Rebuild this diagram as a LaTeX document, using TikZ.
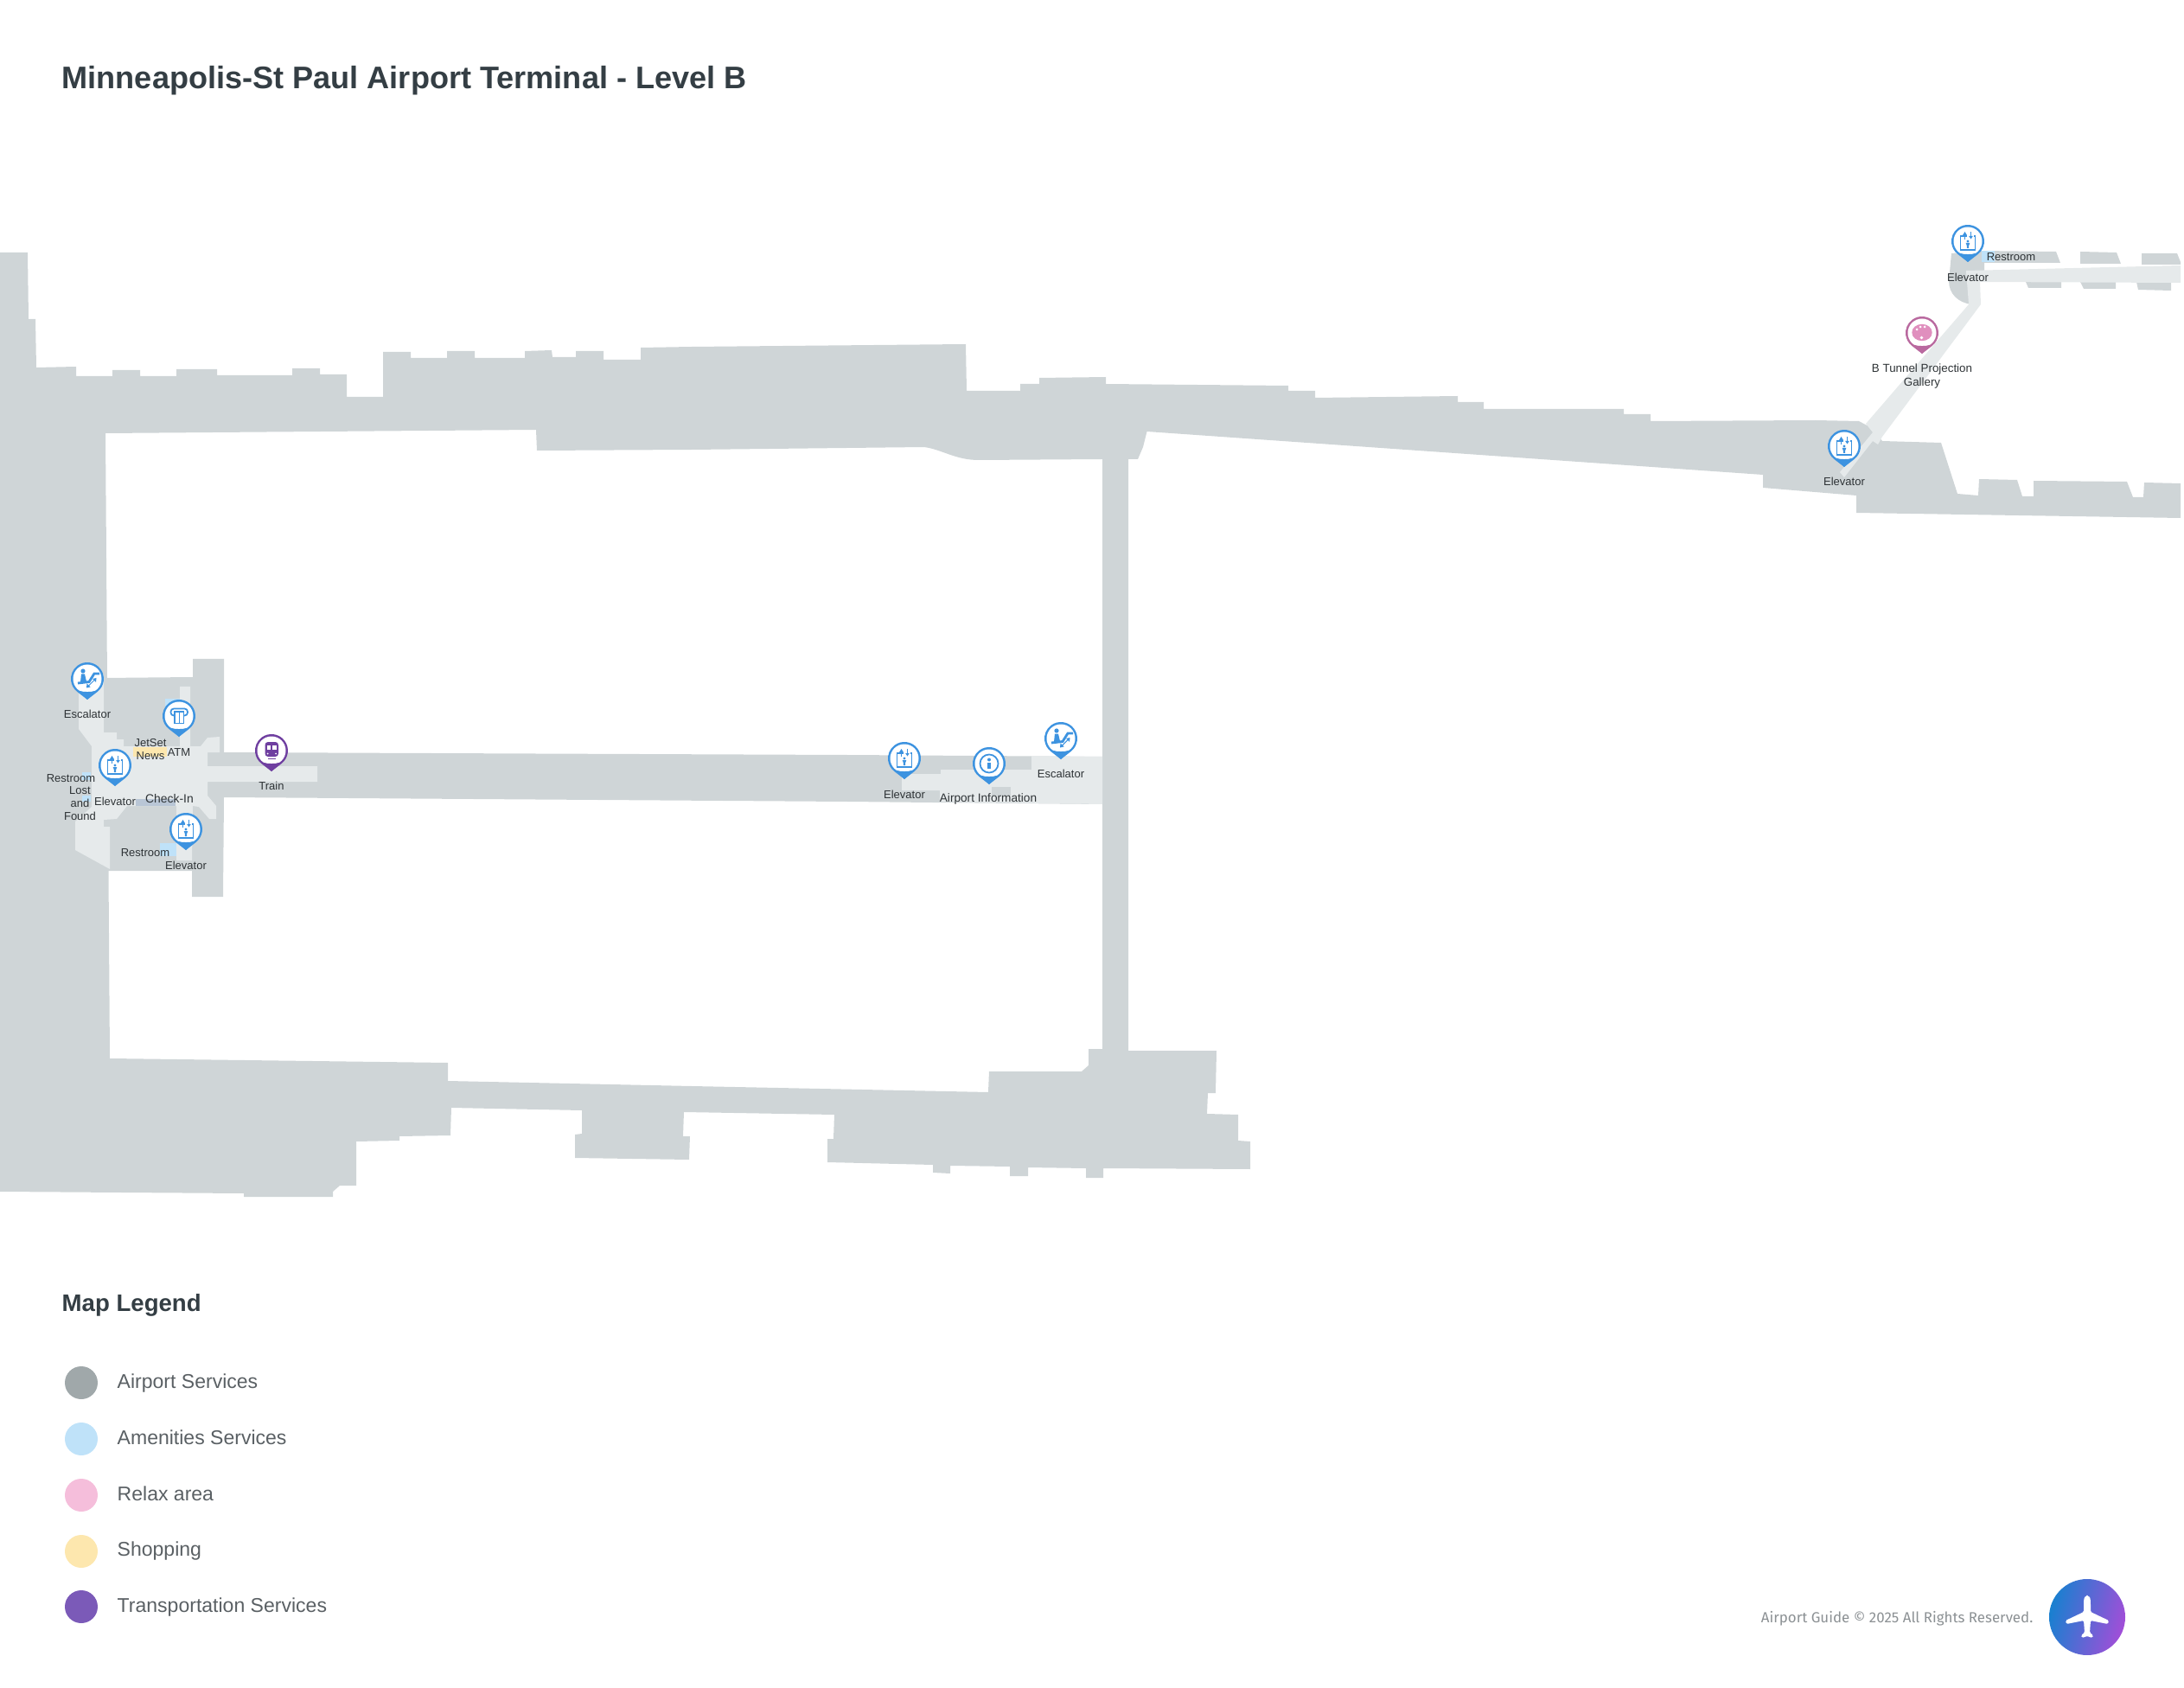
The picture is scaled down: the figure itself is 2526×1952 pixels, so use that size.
\documentclass[tikz,border=0pt]{standalone}
\usepackage{fontspec}
\setmainfont{Liberation Sans}
\newfontfamily\footerfont{Fira Sans}
\usepackage{tikz}
\definecolor{floorgray}{HTML}{CFD5D7}
\definecolor{floorlight}{HTML}{E6EAEB}
\definecolor{amenityblue}{HTML}{BFE2F9}
\definecolor{shopyellow}{HTML}{FDE7AE}
\definecolor{checkgray}{HTML}{B9C6D6}
\definecolor{pinblue}{HTML}{3D93E0}
\definecolor{pinpurple}{HTML}{6F3FA0}
\definecolor{pinpink}{HTML}{B9699F}
\definecolor{palettepink}{HTML}{E08FBE}
\definecolor{titledark}{HTML}{343E44}
\definecolor{labeldark}{HTML}{2E3336}
\definecolor{legendtext}{HTML}{5A6064}
\definecolor{footergray}{HTML}{8C9194}
\tikzset{
    floor/.style = {fill = floorgray},
    walkway/.style = {fill = floorlight},
    maplabel/.style = {text = labeldark, inner sep = 0pt, align = center, yshift = -0.2pt, font = \fontsize{3.7}{4.2}\selectfont},
    legendlabel/.style = {text = legendtext, inner sep = 0pt, anchor = base west, font = \fontsize{6.55}{8}\selectfont},
    legenddot/.style = {circle, minimum size = 38*0.01cm, inner sep = 0pt},
    iconline/.style = {line width = 0.4pt},
    pinbase/.pic = {
        \fill[#1] (0,24) -- (11.6,15) arc[start angle = 52.3, end angle = -232.3, radius = 19] -- cycle;
        \fill[white] (0,0) circle[radius = 16.5];
        \fill[#1] (0,24) -- (-9.5,13.8) .. controls (-4,15.5) and (4,15.5) .. (9.5,13.8) -- cycle;
    },
    elevatorpin/.pic = {
        \pic {pinbase = pinblue};
        \draw[iconline, pinblue] (-1,-6) -- (-8.5,-6) -- (-8.5,10) -- (8.5,10) -- (8.5,-6) -- (6.5,-6);
        \draw[line width = 0.3pt, pinblue] (-3.5,-2) -- (-3.5,-7);
        \fill[pinblue] (-6,-7) -- (-1,-7) -- (-3.5,-11) -- cycle;
        \draw[line width = 0.3pt, pinblue] (3.5,-11) -- (3.5,-6);
        \fill[pinblue] (1.2,-6) -- (5.8,-6) -- (3.5,-2.5) -- cycle;
        \fill[pinblue] (0,0) circle[radius = 1.7];
        \fill[pinblue] (-2.3,2) -- (2.3,2) -- (1.2,5) -- (1,8) -- (-1,8) -- (-1.2,5) -- cycle;
    },
    escalatorpin/.pic = {
        \pic {pinbase = pinblue};
        \draw[pinblue, line width = 0.8pt] (-11,5) -- (2,3.5) -- (8,-6) -- (14,-6);
        \fill[pinblue] (-5,-9) circle[radius = 2.6];
        \fill[pinblue] (-7,-5.5) -- (-3,-5.5) -- (-1,3) -- (-8,4) -- cycle;
        \draw[line width = 0.3pt, pinblue] (1,8.5) -- (8.5,1);
        \fill[pinblue] (-1,10.5) -- (-0.5,5.5) -- (3.5,9.5) -- cycle;
        \fill[pinblue] (10.5,-1) -- (10,4) -- (6,0) -- cycle;
    },
    atmpin/.pic = {
        \pic {pinbase = pinblue};
        \draw[line width = 0.5pt, pinblue, rounded corners = 1pt] (-5,-0.5) -- (-9.5,-0.5) -- (-9.5,-8.5) -- (10,-8.5) -- (10,-0.5) -- (5.5,-0.5);
        \draw[line width = 0.5pt, pinblue] (-5,-5) -- (-5,8.5) -- (5.5,8.5) -- (5.5,-5) -- cycle;
        \draw[iconline, pinblue] (0.5,-5) -- (0.5,8.5);
    },
    infopin/.pic = {
        \pic {pinbase = pinblue};
        \draw[line width = 0.5pt, pinblue] (0,0) circle[radius = 10.5];
        \fill[pinblue] (0,-4.5) circle[radius = 2];
        \fill[pinblue] (-2.2,-1.2) rectangle (1.8,6);
    },
    trainpin/.pic = {
        \pic {pinbase = pinpurple};
        \fill[pinpurple, rounded corners = 1pt] (-7.5,-10) rectangle (8,7);
        \fill[white] (-5.5,-6) rectangle (-0.7,-1);
        \fill[white] (1,-6) rectangle (6,-1);
        \fill[white] (-4.5,3.5) circle[radius = 1];
        \fill[white] (5,3.5) circle[radius = 1];
        \fill[pinpurple] (-4,8.7) rectangle (4.5,10);
    },
    gallerypin/.pic = {
        \pic {pinbase = pinpink};
        \fill[palettepink] (0,-0.5) ellipse[x radius = 11.7, y radius = 9.7];
        \fill[white] (-6,-4) circle[radius = 1.5];
        \fill[white] (-2,-7) circle[radius = 1.5];
        \fill[white] (3,-7) circle[radius = 1.5];
        \fill[white] (-0.5,5.5) circle[radius = 1.8];
    },
}
\begin{document}
\begin{tikzpicture}[x = 0.01cm, y = -0.01cm]
\useasboundingbox (0,0) rectangle (2526,1952);
% terminal ring, courtyard cut out
\fill[floor, even odd rule] (0,292) -- (32,292) -- (33,369) -- (41,369) -- (42,425) -- (88,424) -- (88,435) -- (130,435) -- (130,428) -- (162,428) -- (162,435) -- (204,435) -- (204,427) -- (251,427) -- (251,434) -- (338,434) -- (338,426) -- (370,426) -- (370,433) -- (401,433) -- (401,459) -- (443,459) -- (443,407) -- (475,407) -- (475,414) -- (517,414) -- (517,406) -- (549,406) -- (549,414) -- (607,414) -- (607,406) -- (638,405) -- (639,413) -- (666,413) -- (666,406) -- (698,406) -- (698,416) -- (741,416) -- (741,402) -- (800,401) -- (1117,398) -- (1118,452) -- (1180,452) -- (1180,444) -- (1202,444) -- (1202,437) -- (1279,436) -- (1279,444) -- (1490,446) -- (1490,452) -- (1521,452) -- (1521,460) -- (1686,458) -- (1686,465) -- (1716,465) -- (1716,473) -- (1878,473) -- (1878,479) -- (1909,479) -- (1909,487) -- (2100,486) -- (2150,487) -- (2165,495) -- (2177,510) -- (2245,512) -- (2264,571) -- (2288,573) -- (2289,554) -- (2333,555) -- (2339,574) -- (2352,574) -- (2352,556) -- (2460,557) -- (2467,575) -- (2479,575) -- (2480,558) -- (2522,559) -- (2522,599) -- (2147,593) -- (2147,573) -- (2039,564) -- (2039,549) -- (1326.5,499) -- (1322,517) -- (1316,531) -- (1305,531) -- (1305,1215) -- (1407,1215) -- (1406,1264) -- (1397,1264) -- (1396,1288) -- (1432,1289) -- (1432,1319) -- (1446,1320) -- (1446,1352) -- (1276,1351) -- (1276,1362) -- (1256,1362) -- (1256,1351) -- (1189,1350) -- (1189,1360) -- (1168,1360) -- (1168,1349) -- (1099,1348) -- (1099,1357) -- (1079,1356) -- (1079,1347) -- (957,1344) -- (957,1317) -- (964,1317) -- (965,1289) -- (791,1286) -- (790,1314) -- (798,1314) -- (797,1341) -- (665,1339) -- (665,1312) -- (673,1311) -- (673,1284) -- (522,1281) -- (521,1313) -- (462,1314) -- (462,1319) -- (412,1320) -- (412,1371) -- (393,1371) -- (385,1378) -- (385,1384) -- (282,1384) -- (282,1380) -- (0,1378) -- cycle
    (122,501) -- (620,497) -- (621,521) -- (800,520) -- (1069,517) .. controls (1090,520) and (1105,532) .. (1132,532) -- (1275,531) -- (1275,1213) -- (1259,1213) -- (1259,1232) -- (1251,1239) -- (1144,1239) -- (1143,1263) -- (900,1258) -- (800,1256) -- (518,1250) -- (518,1229) -- (127,1224) -- cycle;
% west hall and concourse
\fill[floor] (120,784) -- (223,783) -- (223,762) -- (259,762) -- (259,870) -- (980,873) -- (1275,875) -- (1275,930) -- (980,927) -- (259,922) -- (258,1037) -- (222,1037) -- (222,1007) -- (120,1007) -- cycle;
% north east wing
\fill[floor] (2257,293) -- (2295,290) -- (2295,313) -- (2274,313) -- (2280,352) .. controls (2265,350) and (2254,340) .. (2254,325) -- cycle;
\fill[floor] (2290,290) -- (2378,291) -- (2383,304) -- (2290,304) -- cycle;
\fill[floor] (2406,291) -- (2448,292) -- (2453,305) -- (2406,305) -- cycle;
\fill[floor] (2477,293) -- (2518,293) -- (2522,303) -- (2522,306) -- (2477,306) -- cycle;
\fill[floor] (2343,326) -- (2384,326) -- (2384,333) -- (2346,333) -- cycle;
\fill[floor] (2406,326) -- (2447,326) -- (2447,334) -- (2410,334) -- cycle;
\fill[floor] (2471,326) -- (2511,327) -- (2511,336) -- (2473,335) -- cycle;
% walkways
\fill[walkway] (91,780) -- (120,780) -- (120,847) -- (135,847) -- (135,855) -- (143,855) -- (143,863) -- (208,863) -- (208,794) -- (220,794) -- (220,863) -- (232,863) -- (240,853) -- (254,852) -- (254,870) -- (240,870) -- (240,886) -- (367,886) -- (367,904) -- (240,904) -- (240,920) -- (250,932) -- (250,947) -- (242,947) -- (230,933) -- (223,932) -- (222,995) -- (204,995) -- (204,932) -- (147,932) -- (135,947) -- (120,948) -- (120,956) -- (127,956) -- (127,1005) -- (87,983) -- (87,950) -- (106,933) -- (106,863) -- (91,843) -- cycle;
\fill[walkway] (1193,874) -- (1275,875) -- (1275,930) -- (1087,927) -- (1087,914) -- (1043,914) -- (1043,895) -- (1088,895) -- (1088,890) -- (1193,890) -- cycle;
\fill[floor] (1147,910) rectangle (1169,920);
\fill[walkway] (2274,313) -- (2522,307) -- (2522,327) -- (2290,326) -- (2291,352) -- (2177,505) -- (2172,514) -- (2166,510) -- (2133,552) -- (2128,546) -- (2166,500) -- (2158,490) -- (2277,352) -- cycle;
% shops and amenities
\fill[amenityblue] (191,808) rectangle (208,820);
\fill[amenityblue] (95,893) rectangle (105,902);
\fill[amenityblue] (95,920) rectangle (105,927);
\fill[amenityblue] (185,975) rectangle (204,990);
\fill[amenityblue] (2292,290) rectangle (2307,303);
\fill[shopyellow] (154,864) rectangle (193,875);
\fill[checkgray] (157,924) rectangle (203,932);
% pins
\pic at (101,785) {escalatorpin};
\pic at (207,828) {atmpin};
\pic at (133,885) {elevatorpin};
\pic at (215,959) {elevatorpin};
\pic at (314,868) {trainpin};
\pic at (1046,877) {elevatorpin};
\pic at (1144,883) {infopin};
\pic at (1227,854) {escalatorpin};
\pic at (2276,279) {elevatorpin};
\pic at (2223,385) {gallerypin};
\pic at (2133,516) {elevatorpin};
% labels
\node[maplabel] (escalatorwest) at (101,825) {Escalator};
\node[maplabel] (atm) at (207,869) {ATM};
\node[maplabel] (jetset) at (174,865.5) {JetSet\\News};
\node[maplabel] (restroomwest) at (82,899) {Restroom};
\node[maplabel] (lostfound) at (92.5,928.5) {Lost\\and\\Found};
\node[maplabel] (elevatorwest) at (133,926) {Elevator};
\node[maplabel, font = \fontsize{3.95}{4.2}\selectfont] (checkin) at (196,923) {Check-In};
\node[maplabel] (restroomsouth) at (168,985) {Restroom};
\node[maplabel] (elevatorsouth) at (215,1000) {Elevator};
\node[maplabel] (train) at (314,908) {Train};
\node[maplabel] (elevatormid) at (1046,918) {Elevator};
\node[maplabel, font = \fontsize{3.88}{4.2}\selectfont] (information) at (1143,923) {Airport Information};
\node[maplabel] (escalatormid) at (1227,894) {Escalator};
\node[maplabel] (elevatornorth) at (2276,320) {Elevator};
\node[maplabel] (restroomnorth) at (2326,296) {Restroom};
\node[maplabel, font = \fontsize{3.8}{4.2}\selectfont] (gallery) at (2223,434.5) {B Tunnel Projection\\[0.5pt]Gallery};
\node[maplabel] (elevatoreast) at (2133,556) {Elevator};
% title and legend
\node[anchor = base west, inner sep = 0pt, text = titledark, font = \fontsize{10.27}{12}\bfseries\selectfont] (title) at (71,103) {Minneapolis-St Paul Airport Terminal - Level B};
\node[anchor = base west, inner sep = 0pt, text = titledark, font = \fontsize{7.85}{9}\bfseries\selectfont] (legendtitle) at (71,1516) {Map Legend};
\node[legenddot, fill = {rgb,255:red,160;green,168;blue,170}] (dotairport) at (94,1599) {};
\node[legenddot, fill = amenityblue] (dotamenities) at (94,1664) {};
\node[legenddot, fill = {rgb,255:red,245;green,190;blue,219}] (dotrelax) at (94,1729) {};
\node[legenddot, fill = shopyellow] (dotshopping) at (94,1794) {};
\node[legenddot, fill = {rgb,255:red,123;green,90;blue,184}] (dottransport) at (94,1858) {};
\node[legendlabel] (airport) at (135,1605) {Airport Services};
\node[legendlabel] (amenities) at (135,1670) {Amenities Services};
\node[legendlabel] (relax) at (135,1735) {Relax area};
\node[legendlabel] (shopping) at (135,1799) {Shopping};
\node[legendlabel] (transport) at (135,1864) {Transportation Services};
% footer and logo
\node[anchor = east, inner sep = 0pt, text = footergray, font = \footerfont\fontsize{4.8}{6}\selectfont] (footer) at (2352,1872) {Airport Guide © 2025 All Rights Reserved.};
\shade[left color = {rgb,255:red,24;green,128;blue,208}, right color = {rgb,255:red,162;green,78;blue,216}, shading angle = 75] (2414,1870) circle[radius = 44];
\fill[white, rounded corners = 0.4pt] (2414,1846) .. controls (2410,1846) and (2410,1851) .. (2410,1859) -- (2410,1864) -- (2389,1874) -- (2390,1878) -- (2410,1874) -- (2411,1888) -- (2407,1891) -- (2408,1894) -- (2414,1892) -- (2420,1894) -- (2421,1891) -- (2417,1888) -- (2418,1874) -- (2438,1878) -- (2439,1874) -- (2418,1864) -- (2418,1859) .. controls (2418,1851) and (2418,1846) .. (2414,1846) -- cycle;
\end{tikzpicture}
\end{document}
